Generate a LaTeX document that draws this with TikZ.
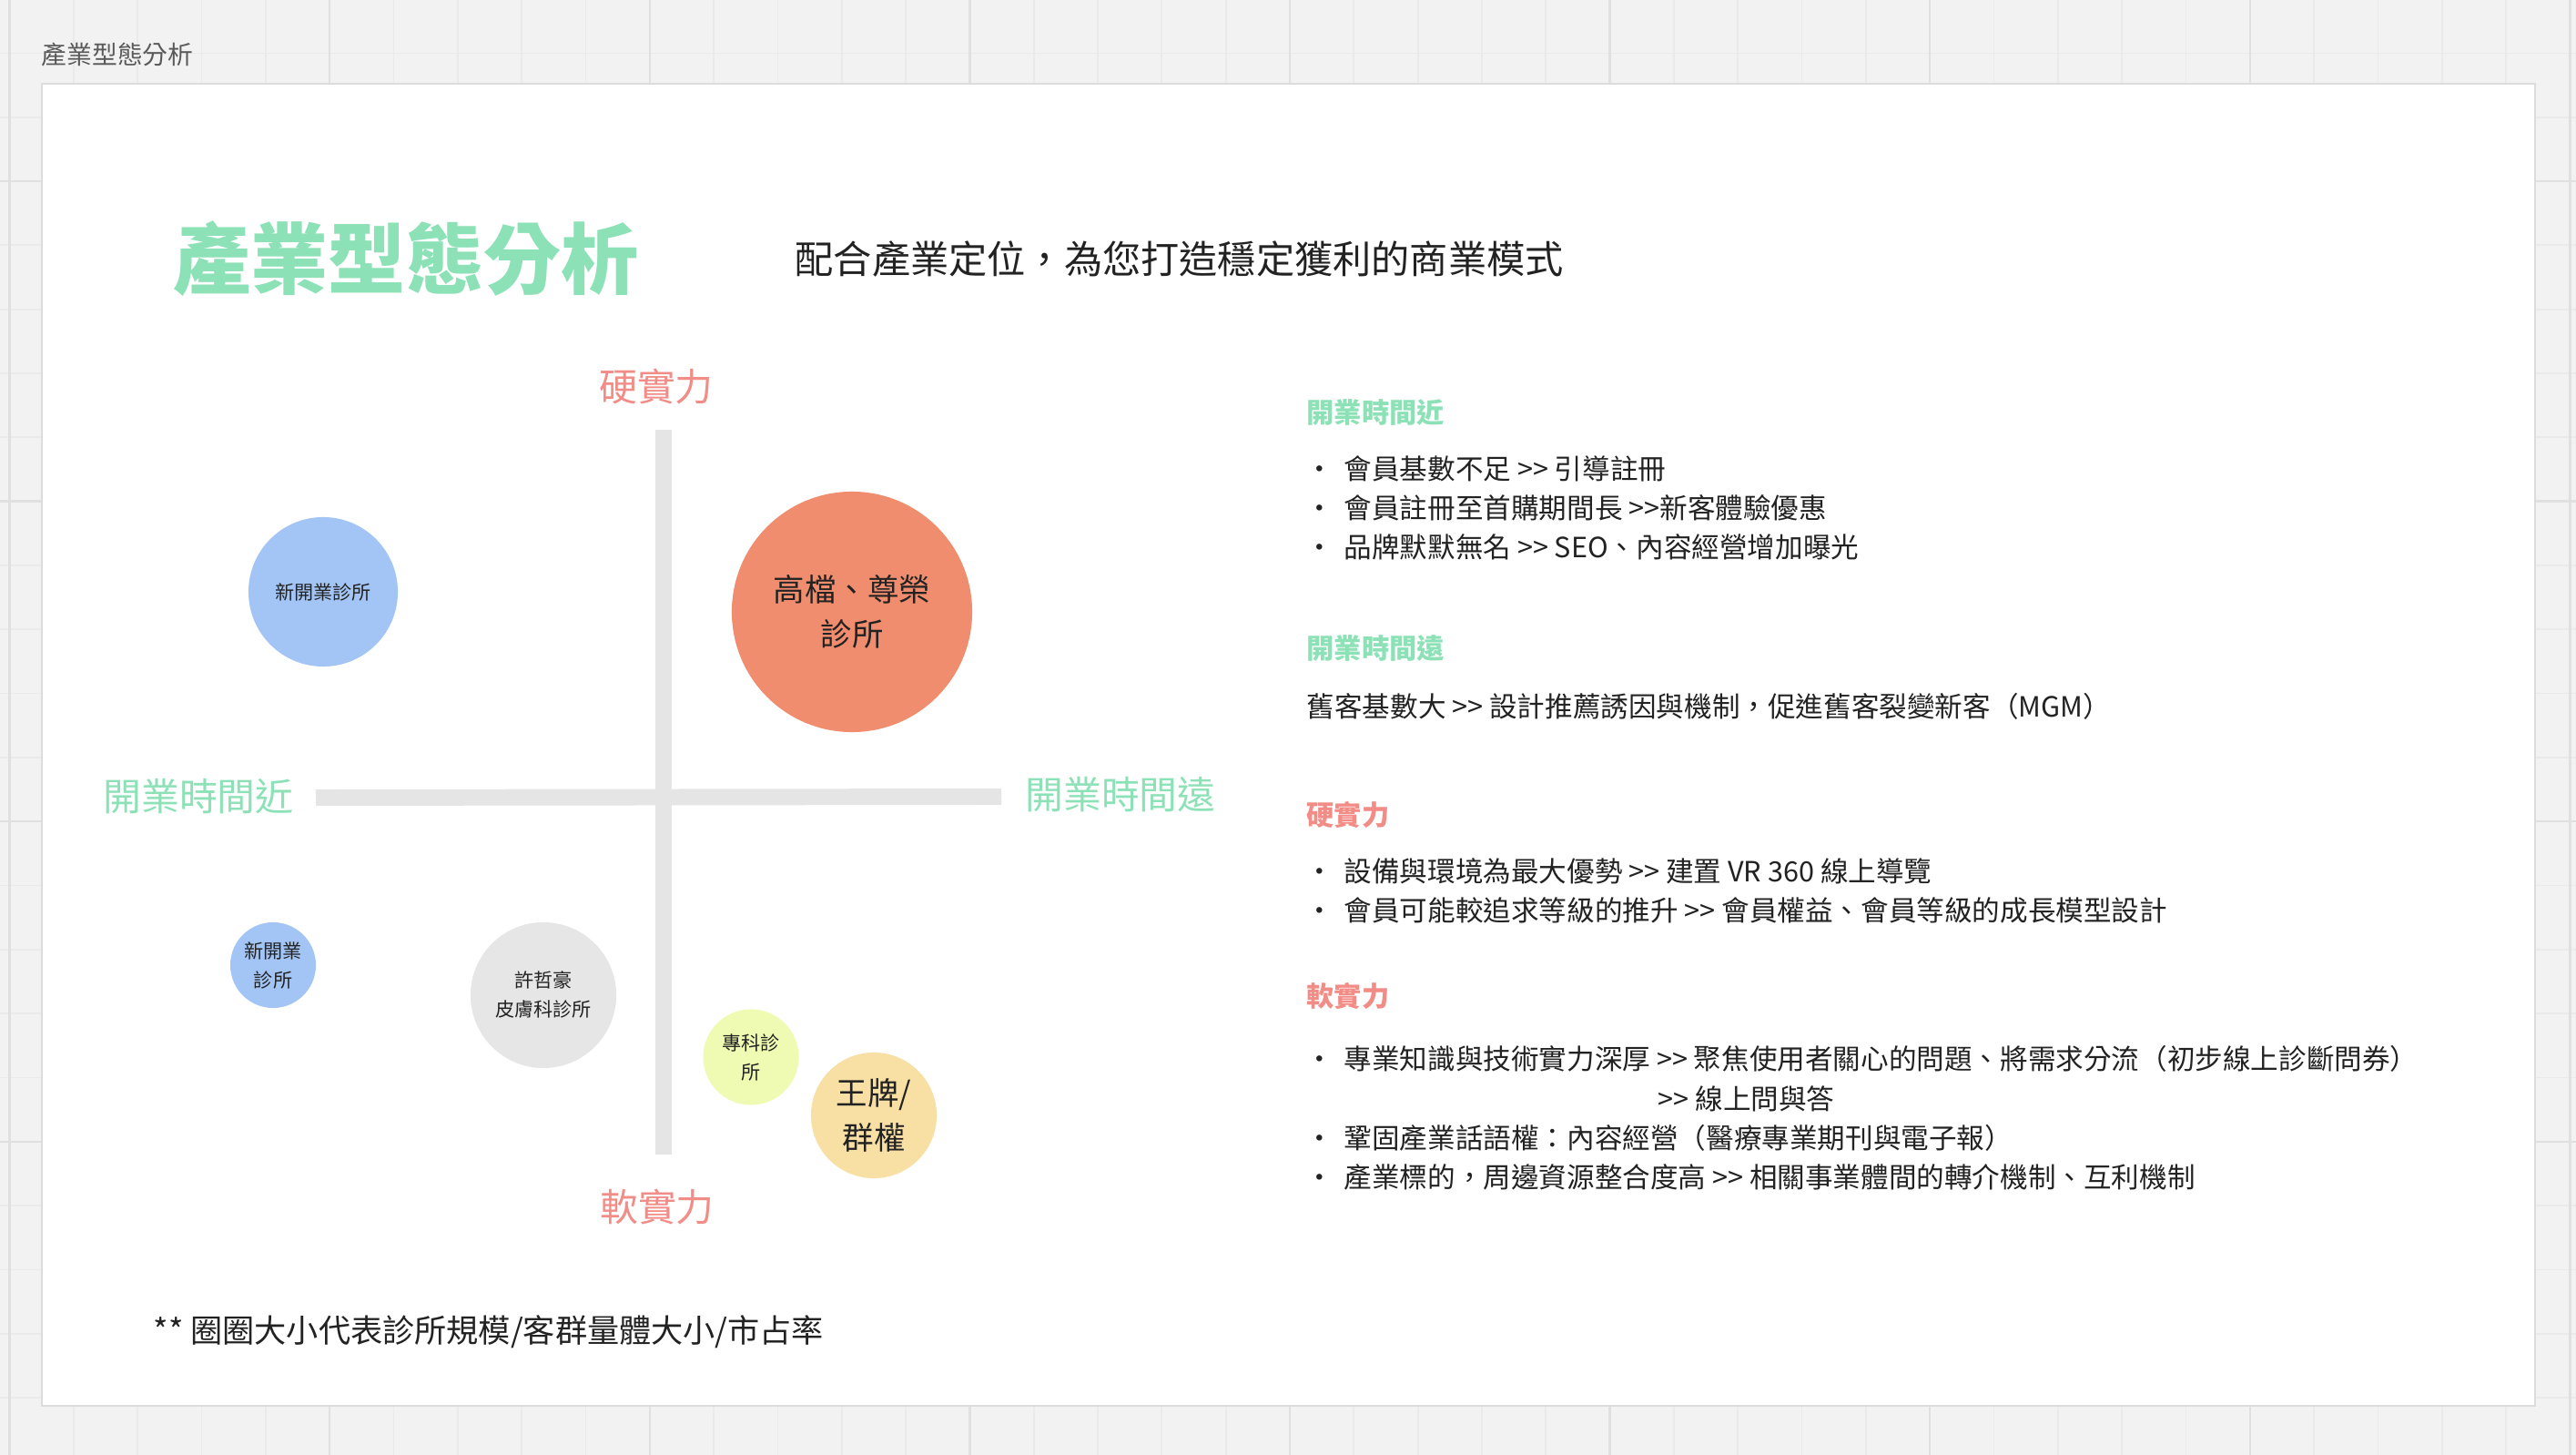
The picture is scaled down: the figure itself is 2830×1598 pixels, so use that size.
\documentclass[tikz,border=0pt]{standalone}
\usepackage{fontspec}
\setmainfont{Noto Sans CJK TC}
\usepackage{tikz}
\usetikzlibrary{positioning}
\definecolor{bgpage}{HTML}{F2F2F2}
\definecolor{gridmin}{HTML}{EAEAEA}
\definecolor{gridmaj}{HTML}{E0E0E0}
\definecolor{panelline}{HTML}{DCDCDC}
\definecolor{mintgreen}{HTML}{8CE1B6}
\definecolor{salmon}{HTML}{F28C86}
\definecolor{axisgrey}{HTML}{E5E5E5}
\definecolor{clinicblue}{HTML}{A3C5F5}
\definecolor{clinicorange}{HTML}{F08D6E}
\definecolor{clinicgrey}{HTML}{E6E6E6}
\definecolor{cliniclime}{HTML}{EFFAB3}
\definecolor{clinicgold}{HTML}{F8DFA4}
\definecolor{inkdark}{HTML}{222222}
\definecolor{inkgrey}{HTML}{5A5A5A}
\newcommand\gtgt{>\kern0pt>}

\begin{document}
\begin{tikzpicture}[x=0.01cm,y=-0.01cm,inner sep=0pt,text=inkdark]
  \tikzstyle{txt}=[anchor=west,font=\fontsize{8.7pt}{12pt}\selectfont]
  \tikzstyle{bul}=[yshift=-0.04cm,font=\fontsize{8.7pt}{12pt}\selectfont]
  \tikzstyle{head}=[anchor=west,font=\fontsize{8.6pt}{12pt}\selectfont\bfseries]
  \tikzstyle{axlab}=[font=\fontsize{11.9pt}{14pt}\selectfont]
  \tikzstyle{bubble}=[circle,align=center]
  \tikzstyle{small}=[font=\fontsize{6pt}{9.1pt}\selectfont]
  \tikzstyle{big}=[font=\fontsize{9.8pt}{14pt}\selectfont]
  \useasboundingbox (0,0) rectangle (2830,1598);
  % board background with grid
  \fill[bgpage] (0,0) rectangle (2830,1598);
  \foreach \i in {0,...,40}
    \draw[gridmin,line width=0.5pt] ({10.6+70.32*\i},0) -- ({10.6+70.32*\i},1598);
  \foreach \j in {0,...,22}
    \draw[gridmin,line width=0.5pt] (0,{58.4+70.32*\j}) -- (2830,{58.4+70.32*\j});
  \foreach \i in {0,...,8}
    \draw[gridmaj,line width=0.7pt] ({10.6+351.6*\i},0) -- ({10.6+351.6*\i},1598);
  \foreach \j in {0,...,3}
    \draw[gridmaj,line width=0.7pt] (0,{199+351.6*\j}) -- (2830,{199+351.6*\j});
  \node[anchor=west,text=inkgrey,font=\fontsize{7.9pt}{10pt}\selectfont] (frame) at (45,60) {產業型態分析};
  % white slide
  \draw[panelline,fill=white,line width=0.6pt] (46,92) rectangle (2785,1544);
  \node[anchor=west,text=mintgreen,font=\fontsize{24.2pt}{28pt}\selectfont\bfseries] (title) at (190,284) {產業型態分析};
  \node[anchor=west,font=\fontsize{12pt}{14pt}\selectfont] (sub) at (873,284) {配合產業定位，為您打造穩定獲利的商業模式};
  % axes
  \coordinate (ytop) at (729,472);
  \coordinate (ybot) at (729,1268);
  \coordinate (xl) at (347,876);
  \coordinate (xr) at (1100,875);
  \draw[axisgrey,line width=5.1pt] (ytop) -- (ybot);
  \draw[axisgrey,line width=5.1pt] (xl) -- (xr);
  \node[axlab,text=salmon] (hard) at (721,425) {硬實力};
  \node[axlab,text=salmon] (soft) at (722,1326) {軟實力};
  \node[axlab,text=mintgreen] (near) at (218,875) {開業時間近};
  \node[axlab,text=mintgreen] (far) at (1231,873) {開業時間遠};
  % clinics (size = scale)
  \node[bubble,small,fill=clinicblue,minimum size=1.64cm] (c1) at (355,650) {新開業診所};
  \node[bubble,big,fill=clinicorange,minimum size=2.64cm] (c2) at (936,672) {高檔、尊榮\\診所};
  \node[bubble,small,fill=clinicblue,minimum size=0.94cm] (c3) at (300,1060) {新開業\\診所};
  \node[bubble,small,fill=clinicgrey,minimum size=1.60cm] (c4) at (597,1093) {許哲豪\\皮膚科診所};
  \node[bubble,small,fill=cliniclime,minimum size=1.05cm] (c5) at (825,1161) {專科診\\所};
  \node[bubble,big,fill=clinicgold,minimum size=1.38cm] (c6) at (960,1225) {王牌/\\群權};
  \node[anchor=west,font=\fontsize{10pt}{12pt}\selectfont] (note) at (168,1463) {** 圈圈大小代表診所規模/客群量體大小/市占率};
  % right column
  \node[head,text=mintgreen] (h1) at (1435,453) {開業時間近};
  \node[bul] (d1) at (1450,515) {•};
  \node[txt] (t1) at (1476,515) {會員基數不足 \gtgt{} 引導註冊};
  \node[bul] (d2) at (1450,558) {•};
  \node[txt] (t2) at (1476,558) {會員註冊至首購期間長 \gtgt{}新客體驗優惠};
  \node[bul] (d3) at (1450,601) {•};
  \node[txt] (t3) at (1476,601) {品牌默默無名 \gtgt{} SEO、內容經營增加曝光};
  \node[head,text=mintgreen] (h2) at (1435,712) {開業時間遠};
  \node[txt] (t4) at (1435,776) {舊客基數大 \gtgt{} 設計推薦誘因與機制，促進舊客裂變新客（MGM）};
  \node[head,text=salmon] (h3) at (1435,895) {硬實力};
  \node[bul] (d5) at (1450,957) {•};
  \node[txt] (t5) at (1476,957) {設備與環境為最大優勢 \gtgt{} 建置 VR 360 線上導覽};
  \node[bul] (d6) at (1450,1000) {•};
  \node[txt] (t6) at (1476,1000) {會員可能較追求等級的推升 \gtgt{} 會員權益、會員等級的成長模型設計};
  \node[head,text=salmon] (h4) at (1435,1094) {軟實力};
  \node[bul] (d7) at (1450,1163) {•};
  \node[txt] (t7) at (1476,1163) {專業知識與技術實力深厚 \gtgt{} 聚焦使用者關心的問題、將需求分流（初步線上診斷問券）};
  \node[txt] (t8) at (1821,1207) {\gtgt{} 線上問與答};
  \node[bul] (d9) at (1450,1250) {•};
  \node[txt] (t9) at (1476,1250) {鞏固產業話語權：內容經營（醫療專業期刊與電子報）};
  \node[bul] (d10) at (1450,1293) {•};
  \node[txt] (t10) at (1476,1293) {產業標的，周邊資源整合度高 \gtgt{} 相關事業體間的轉介機制、互利機制};
\end{tikzpicture}
\end{document}
